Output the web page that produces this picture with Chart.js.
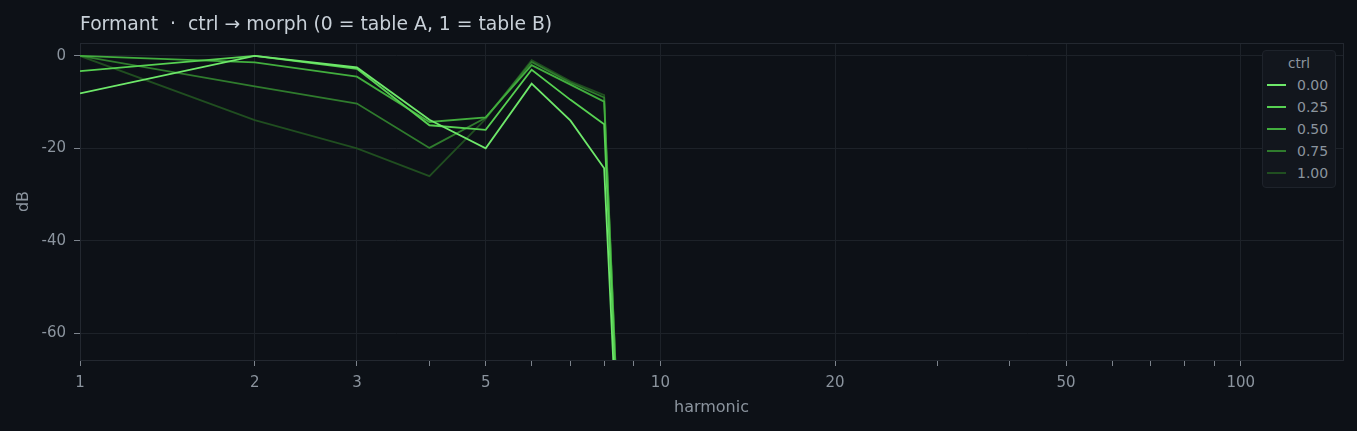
<!DOCTYPE html>
<html>
<head>
<meta charset="utf-8">
<script src="https://cdn.jsdelivr.net/npm/chart.js@4"></script>
<style>
  html, body { margin: 0; padding: 0; background: #0d1117; }
  #wrap { position: relative; width: 1357px; height: 431px; overflow: hidden; background: #0d1117; }
  #c { position: absolute; left: 0; top: 0; }
  #title { position: absolute; left: 80px; top: 13px; font: 18.8px "DejaVu Sans", sans-serif; line-height: 22px; color: #c9d1d9; white-space: pre; }
  #legend { position: absolute; left: 1262px; top: 50px; width: 72px; height: 135px; background: #12161d; border: 1px solid #1e232b; border-radius: 4px; padding-top: 1px; box-sizing: content-box; font-family: "DejaVu Sans", sans-serif; }
  #legend .lt { height: 22px; line-height: 22px; font-size: 13.5px; color: #8b949e; text-align: center; }
  #legend .row { height: 22px; line-height: 22px; font-size: 14px; color: #8b949e; display: flex; align-items: center; }
  #legend .sw { width: 19px; height: 2px; margin-left: 4px; margin-right: 11px; }
</style>
</head>
<body>
<div id="wrap">
  <canvas id="c" width="1357" height="431"></canvas>
  <div id="title">Formant  ·  ctrl → morph (0 = table A, 1 = table B)</div>
  <div id="legend"></div>
</div>
<script>
// ---- data ----
const HARMONICS = [1, 2, 3, 4, 5, 6, 7, 8, 9];
const CTRL_LABELS = ['0.00', '0.25', '0.50', '0.75', '1.00'];
const DB_CTRL_000 = [-8.1, 0.0, -2.5, -13.8, -20.0, -6.0, -14.0, -24.3, -160];
const DB_CTRL_025 = [-3.3, 0.0, -2.8, -15.0, -16.0, -3.0, -9.5, -14.8, -160];
const DB_CTRL_050 = [0.0, -1.4, -4.5, -14.3, -13.3, -2.0, -6.2, -9.9, -160];
const DB_CTRL_075 = [0.0, -6.6, -10.3, -19.9, -13.4, -1.3, -5.8, -9.0, -160];
const DB_CTRL_100 = [0.0, -13.9, -20.0, -26.0, -13.6, -0.9, -5.5, -8.5, -160];
const SERIES = [DB_CTRL_000, DB_CTRL_025, DB_CTRL_050, DB_CTRL_075, DB_CTRL_100];
const X_TICKS = [1, 2, 3, 4, 5, 6, 7, 8, 9, 10, 20, 30, 40, 50, 60, 70, 80, 90, 100];
const X_LABELED = [1, 2, 3, 5, 10, 20, 50, 100];
const Y_TICKS = [0, -20, -40, -60];

// ---- styles ----
const COLORS = ['#6ee86a', '#57d152', '#42ae3e', '#2f7b2d', '#204e20'];
const GRID = '#1d2229';
const TICK_MARK = '#7d848d';
const TEXT = '#8b949e';
const FONT = '"DejaVu Sans", sans-serif';

const datasets = SERIES.map((vals, i) => ({
  label: CTRL_LABELS[i],
  data: HARMONICS.map((h, j) => ({ x: h, y: vals[j] })),
  borderColor: COLORS[i],
  backgroundColor: COLORS[i],
  borderWidth: 1.8,
  pointRadius: 0,
  tension: 0,
  fill: false
}));

const boxPlugin = {
  id: 'box',
  beforeDatasetsDraw(chart) {
    const a = chart.chartArea, ctx = chart.ctx;
    ctx.save();
    ctx.strokeStyle = '#232830';
    ctx.lineWidth = 1;
    ctx.strokeRect(Math.round(a.left) + 0.5, Math.round(a.top) + 0.5, Math.round(a.right - a.left), Math.round(a.bottom - a.top));
    ctx.restore();
  }
};

new Chart(document.getElementById('c'), {
  type: 'line',
  data: { datasets },
  options: {
    responsive: false,
    animation: false,
    devicePixelRatio: 1,
    layout: { padding: { left: 0, right: 14, top: 43, bottom: 0 } },
    plugins: { legend: { display: false }, title: { display: false }, tooltip: { enabled: false } },
    scales: {
      x: {
        type: 'logarithmic',
        min: 1,
        max: 150,
        afterBuildTicks(s) { s.ticks = X_TICKS.map(v => ({ value: v, major: false })); },
        afterFit(s) { s.height = 71; },
        ticks: {
          autoSkip: false, maxRotation: 0, minRotation: 0,
          color: TEXT, font: { family: FONT, size: 15 }, padding: 8,
          callback: (v) => X_LABELED.includes(v) ? String(v) : ''
        },
        grid: {
          color: (c) => (c.tick && X_LABELED.includes(c.tick.value)) ? GRID : 'rgba(0,0,0,0)',
          tickColor: TICK_MARK, tickLength: 6, drawTicks: true
        },
        border: { color: '#262b33' },
        title: { display: true, text: 'harmonic', color: TEXT, font: { family: FONT, size: 16 }, padding: { top: 0, bottom: 14 } }
      },
      y: {
        type: 'linear',
        min: -65.8,
        max: 2.8,
        afterBuildTicks(s) { s.ticks = Y_TICKS.map(v => ({ value: v })); },
        afterFit(s) { s.width = 80; },
        ticks: { color: TEXT, font: { family: FONT, size: 15 }, padding: 8, callback: (v) => String(v) },
        grid: { color: GRID, tickColor: TICK_MARK, tickLength: 6 },
        border: { color: '#262b33' },
        title: { display: true, text: 'dB', color: TEXT, font: { family: FONT, size: 16 }, padding: { top: 14, bottom: 0 } }
      }
    }
  },
  plugins: [boxPlugin]
});

// ---- legend (HTML, real text) ----
const lg = document.getElementById('legend');
const lt = document.createElement('div');
lt.className = 'lt';
lt.textContent = 'ctrl';
lg.appendChild(lt);
CTRL_LABELS.forEach((lab, i) => {
  const r = document.createElement('div');
  r.className = 'row';
  const sw = document.createElement('span');
  sw.className = 'sw';
  sw.style.background = COLORS[i];
  const t = document.createElement('span');
  t.textContent = lab;
  r.appendChild(sw);
  r.appendChild(t);
  lg.appendChild(r);
});
</script>
</body>
</html>
